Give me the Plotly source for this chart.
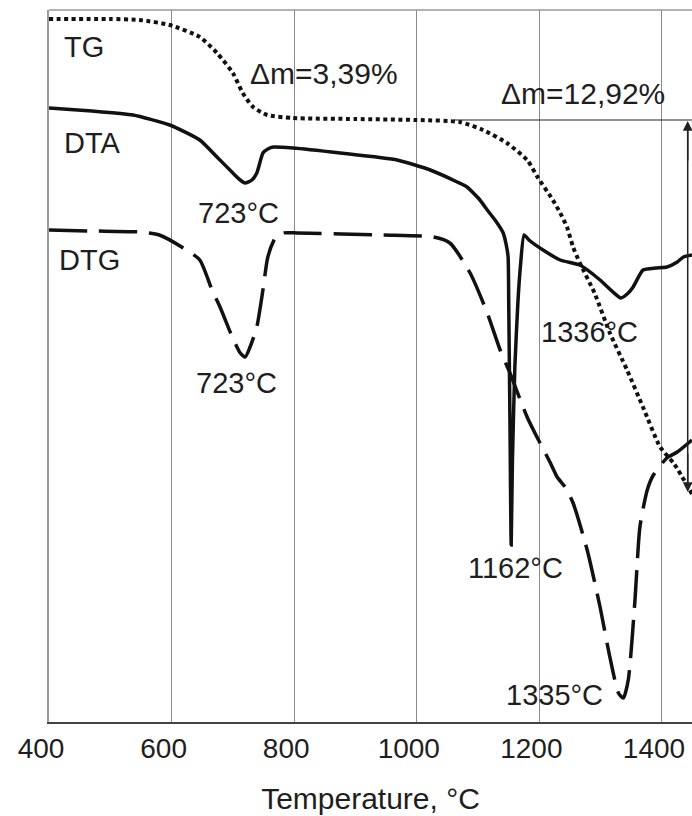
import plotly.graph_objects as go

# ---------------- data (y = signal in arbitrary units) ----------------
tg_T = [400, 500, 548, 597, 646, 674, 700, 716, 733, 756, 798, 900, 1000, 1070, 1108, 1147,
        1180, 1198, 1222, 1234, 1245, 1255, 1266, 1290, 1315, 1343, 1369, 1397, 1420, 1449]
tg_y = [703, 703, 702, 697, 685, 669, 649, 629, 615, 607, 604, 603, 602, 600, 592, 579,
        562, 544, 522, 509, 495, 475, 459, 429, 389, 352, 315, 275, 258, 228]

dta_T = [400, 470, 537, 597, 646, 674, 700, 712, 720, 731, 739, 749, 757, 766, 798, 875, 968,
         1022, 1066, 1082, 1103, 1115, 1130, 1141, 1146, 1149, 1150, 1152, 1154, 1156, 1160,
         1165, 1169, 1175, 1183, 1206, 1234, 1266, 1299, 1320, 1333, 1345, 1353, 1369, 1390,
         1408, 1425, 1435, 1449]
dta_y = [614, 611, 607, 597, 582, 565, 549, 542, 539, 542, 549, 569, 573, 575, 574, 569, 562,
         552, 540, 535, 522, 512, 500, 489, 477, 465, 420, 300, 177, 260, 355,
         420, 455, 487, 482, 472, 462, 457, 442, 430, 424, 429, 435, 452, 454,
         455, 460, 465, 467]

dtg_T = [400, 470, 548, 580, 619, 646, 666, 679, 699, 712, 720, 728, 739, 749, 757, 769, 782,
         805, 945, 1027, 1054, 1087, 1115, 1136, 1152, 1180, 1201, 1218, 1229, 1242, 1255,
         1278, 1299, 1315, 1329, 1337, 1345, 1356, 1364, 1376, 1386, 1408, 1425, 1449]
dtg_y = [492, 491, 490, 487, 474, 462, 432, 415, 385, 369, 365, 375, 395, 432, 465, 484, 489,
         489, 487, 485, 479, 449, 409, 372, 349, 305, 279, 259, 245, 235, 219,
         172, 115, 65, 29, 24, 42, 122, 195, 232, 247, 264, 270, 282]

x_ticks = [400, 600, 800, 1000, 1200, 1400]
x_range = [400, 1449]
y_range = [0, 712]

FONT = "Liberation Sans, Arial, sans-serif"
TXT = "#1e1e1e"

fig = go.Figure()
fig.add_trace(go.Scatter(x=tg_T, y=tg_y, mode="lines", name="TG",
                         line=dict(color="#111", width=4, dash="4px,3.5px", shape="spline", smoothing=0.6)))
fig.add_trace(go.Scatter(x=dta_T, y=dta_y, mode="lines", name="DTA",
                         line=dict(color="#111", width=3.5, shape="spline", smoothing=0.5)))
fig.add_trace(go.Scatter(x=dtg_T, y=dtg_y, mode="lines", name="DTG",
                         line=dict(color="#111", width=3.5, dash="38px,12px", shape="spline", smoothing=0.6)))

labels = [
    ("TG", 421, 675, 29), ("DTA", 421, 579, 29), ("DTG", 413, 462, 29),
    ("Δm=3,39%", 724, 649, 30), ("Δm=12,92%", 1134, 629, 30),
    ("723°C", 640, 509, 29), ("723°C", 636, 339, 29),
    ("1162°C", 1080, 154, 29), ("1336°C", 1199, 390, 29), ("1335°C", 1142, 27, 29),
]
for t, x, y, s in labels:
    fig.add_annotation(x=x, y=y, text=t, showarrow=False, xanchor="left", yanchor="middle",
                       font=dict(family=FONT, size=s, color=TXT))

# mass-loss reference line and double arrow
fig.add_shape(type="line", x0=1060, x1=1449, y0=602, y1=602, line=dict(color="#222", width=1.2))
fig.add_shape(type="line", x0=1442, x1=1442, y0=596, y1=236, line=dict(color="#222", width=1.5))
fig.add_annotation(x=1442, y=601, ax=1442, ay=560, axref="x", ayref="y", xref="x", yref="y",
                   text="", showarrow=True, arrowhead=2, arrowsize=1.3, arrowwidth=1.5,
                   arrowcolor="#222", standoff=0, startstandoff=0)
fig.add_annotation(x=1442, y=230, ax=1442, ay=270, axref="x", ayref="y", xref="x", yref="y",
                   text="", showarrow=True, arrowhead=2, arrowsize=1.3, arrowwidth=1.5,
                   arrowcolor="#222", standoff=0, startstandoff=0)
# top frame line
fig.add_shape(type="line", xref="paper", yref="paper", x0=0, x1=1, y0=1, y1=1,
              line=dict(color="#999", width=1.5))

fig.update_layout(
    width=692, height=816,
    margin=dict(l=49, r=0, t=10, b=94),
    paper_bgcolor="white", plot_bgcolor="white",
    showlegend=False,
    font=dict(family=FONT, color=TXT),
    xaxis=dict(range=x_range, tickvals=x_ticks, ticks="", ticklen=0, showgrid=True,
               gridcolor="#8a8a8a", gridwidth=1, zeroline=False, showline=True,
               linecolor="#444", linewidth=2,
               tickfont=dict(family=FONT, size=28, color=TXT), ticklabelshift=-8,
               ticklabelstandoff=0,
               title=dict(text="Temperature, °C", font=dict(family=FONT, size=30, color=TXT),
                          standoff=25)),
    yaxis=dict(range=y_range, showticklabels=False, ticks="", showgrid=False, zeroline=False,
               showline=True, linecolor="#999", linewidth=1.5),
)

fig.write_html("out.html", config={"displayModeBar": False},
               post_script="document.body.style.margin='0px';document.body.style.overflow='hidden';")
